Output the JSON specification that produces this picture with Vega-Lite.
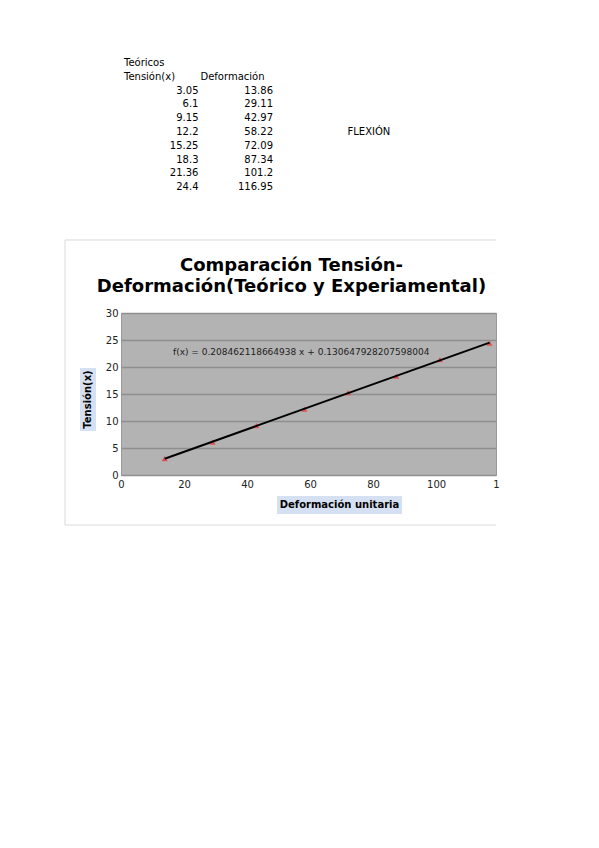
{
  "$schema": "https://vega.github.io/schema/vega-lite/v6.json",
  "description": "Comparación Tensión-Deformación (teórico) con tabla de datos.",
  "padding": {"left": 64, "top": 56, "right": 0, "bottom": 0},
  "background": "white",
  "config": {"font": "DejaVu Sans", "text": {"fontSize": 10, "color": "#000"}},
  "datasets": {
    "teoricos": [
      {"tension": 3.05, "deformacion": 13.86},
      {"tension": 6.1, "deformacion": 29.11},
      {"tension": 9.15, "deformacion": 42.97},
      {"tension": 12.2, "deformacion": 58.22},
      {"tension": 15.25, "deformacion": 72.09},
      {"tension": 18.3, "deformacion": 87.34},
      {"tension": 21.36, "deformacion": 101.2},
      {"tension": 24.4, "deformacion": 116.95}
    ]
  },
  "spacing": 44,
  "vconcat": [
    {
      "width": 304,
      "height": 138,
      "view": {"stroke": null},
      "layer": [
        {
          "data": {"values": [{}]},
          "mark": {"type": "text", "text": "Teóricos", "align": "left", "baseline": "middle"},
          "encoding": {
            "x": {"datum": "A", "type": "nominal", "bandPosition": 0, "axis": null,
                  "scale": {"type": "band", "domain": ["A", "B", "C", "D"], "paddingInner": 0, "paddingOuter": 0.04}},
            "y": {"datum": -1, "type": "ordinal", "bandPosition": 0.5, "axis": null,
                  "scale": {"type": "band", "domain": [-1, 0, 1, 2, 3, 4, 5, 6, 7, 8], "paddingInner": 0, "paddingOuter": 0}}
          }
        },
        {
          "data": {"values": [{}]},
          "mark": {"type": "text", "text": "Tensión(x)", "align": "left", "baseline": "middle"},
          "encoding": {
            "x": {"datum": "A", "type": "nominal", "bandPosition": 0},
            "y": {"datum": 0, "type": "ordinal", "bandPosition": 0.5}
          }
        },
        {
          "data": {"values": [{}]},
          "mark": {"type": "text", "text": "Deformación", "align": "left", "baseline": "middle", "dx": 2},
          "encoding": {
            "x": {"datum": "B", "type": "nominal", "bandPosition": 0},
            "y": {"datum": 0, "type": "ordinal", "bandPosition": 0.5}
          }
        },
        {
          "data": {"values": [{}]},
          "mark": {"type": "text", "text": "FLEXIÓN", "align": "left", "baseline": "middle"},
          "encoding": {
            "x": {"datum": "D", "type": "nominal", "bandPosition": 0},
            "y": {"datum": 4, "type": "ordinal", "bandPosition": 0.5}
          }
        },
        {
          "data": {"name": "teoricos"},
          "transform": [{"window": [{"op": "row_number", "as": "fila"}], "sort": [{"field": "tension"}]}],
          "mark": {"type": "text", "align": "right", "baseline": "middle"},
          "encoding": {
            "x": {"datum": "A", "type": "nominal", "bandPosition": 1},
            "y": {"field": "fila", "type": "ordinal", "bandPosition": 0.5},
            "text": {"field": "tension", "type": "nominal"}
          }
        },
        {
          "data": {"name": "teoricos"},
          "transform": [{"window": [{"op": "row_number", "as": "fila"}], "sort": [{"field": "tension"}]}],
          "mark": {"type": "text", "align": "right", "baseline": "middle"},
          "encoding": {
            "x": {"datum": "B", "type": "nominal", "bandPosition": 1},
            "y": {"field": "fila", "type": "ordinal", "bandPosition": 0.5},
            "text": {"field": "deformacion", "type": "nominal"}
          }
        }
      ]
    },
    {
      "width": 375,
      "height": 162,
      "view": {"fill": "#b3b3b3", "stroke": "#9a9a9a"},
      "resolve": {"axis": {"x": "independent", "y": "independent"}},
      "title": {
        "text": ["Comparación Tensión-", "Deformación(Teórico y Experiamental)"],
        "fontSize": 18,
        "fontWeight": "bold",
        "color": "#000",
        "anchor": "middle",
        "frame": "group",
        "dx": -17,
        "offset": -57,
        "lineHeight": 21
      },
      "layer": [
        {
          "data": {"name": "teoricos"},
          "mark": {"type": "point", "shape": "triangle-up", "filled": true, "color": "#e05252", "size": 36, "opacity": 1},
          "encoding": {
            "x": {
              "field": "deformacion", "type": "quantitative",
              "scale": {"domain": [0, 119], "nice": false, "zero": false},
              "axis": {
                "orient": "bottom",
                "values": [0, 20, 40, 60, 80, 100, 119],
                "labelExpr": "datum.value == 119 ? '1' : datum.label",
                "grid": false, "domain": false, "ticks": false, "labelFlush": false,
                "labelPadding": 4, "labelFontSize": 10, "labelColor": "#222",
                "title": null
              }
            },
            "y": {
              "field": "tension", "type": "quantitative",
              "scale": {"domain": [0, 30], "nice": false},
              "axis": {
                "orient": "left",
                "values": [0, 5, 10, 15, 20, 25, 30],
                "grid": true, "gridColor": "#8e8e8e", "gridWidth": 1.5,
                "domain": false, "ticks": false, "labelFlush": false, "labelOverlap": false,
                "labelPadding": 3, "labelFontSize": 10, "labelColor": "#222",
                "title": null
              }
            }
          }
        },
        {
          "data": {"name": "teoricos"},
          "transform": [{"regression": "tension", "on": "deformacion"}],
          "mark": {"type": "line", "color": "#000", "strokeWidth": 2},
          "encoding": {
            "x": {"field": "deformacion", "type": "quantitative", "axis": null},
            "y": {"field": "tension", "type": "quantitative", "axis": null}
          }
        },
        {
          "data": {"values": [{}]},
          "mark": {"type": "text", "text": "f(x) = 0.208462118664938 x + 0.130647928207598004", "align": "left", "baseline": "middle", "fontSize": 9, "color": "#1e1e1e"},
          "encoding": {
            "x": {"datum": 16.5, "type": "quantitative", "axis": null},
            "y": {"datum": 22.8, "type": "quantitative", "axis": null}
          }
        },
        {
          "data": {"values": [{}]},
          "mark": {"type": "rule", "color": "#d9d9d9", "strokeWidth": 1},
          "encoding": {
            "x": {"datum": -17.77, "type": "quantitative", "axis": null},
            "x2": {"datum": 119},
            "y": {"datum": 43.52, "type": "quantitative", "axis": null}
          }
        },
        {
          "data": {"values": [{}]},
          "mark": {"type": "rule", "color": "#d9d9d9", "strokeWidth": 1},
          "encoding": {
            "x": {"datum": -17.77, "type": "quantitative", "axis": null},
            "x2": {"datum": 119},
            "y": {"datum": -9.26, "type": "quantitative", "axis": null}
          }
        },
        {
          "data": {"values": [{}]},
          "mark": {"type": "rule", "color": "#d9d9d9", "strokeWidth": 1},
          "encoding": {
            "x": {"datum": -17.77, "type": "quantitative", "axis": null},
            "y": {"datum": -9.26, "type": "quantitative", "axis": null},
            "y2": {"datum": 43.52}
          }
        },
        {
          "data": {"values": [{}]},
          "mark": {"type": "rect", "color": "#d5e1f2"},
          "encoding": {
            "x": {"datum": -13.01, "type": "quantitative", "axis": null},
            "x2": {"datum": -7.93},
            "y": {"datum": 19.81, "type": "quantitative", "axis": null},
            "y2": {"datum": 8.15}
          }
        },
        {
          "data": {"values": [{}]},
          "mark": {"type": "rect", "color": "#d5e1f2"},
          "encoding": {
            "x": {"datum": 49.5, "type": "quantitative", "axis": null},
            "x2": {"datum": 89.17},
            "y": {"datum": -3.89, "type": "quantitative", "axis": null},
            "y2": {"datum": -7.22}
          }
        },
        {
          "data": {"values": [{}]},
          "mark": {"type": "text", "text": "Tensión(x)", "angle": 270, "align": "center", "baseline": "middle", "fontSize": 10, "fontWeight": "bold", "color": "#000"},
          "encoding": {
            "x": {"datum": -10.47, "type": "quantitative", "axis": null},
            "y": {"datum": 13.98, "type": "quantitative", "axis": null}
          }
        },
        {
          "data": {"values": [{}]},
          "mark": {"type": "text", "text": "Deformación unitaria", "align": "center", "baseline": "middle", "fontSize": 10, "fontWeight": "bold", "color": "#000"},
          "encoding": {
            "x": {"datum": 69.33, "type": "quantitative", "axis": null},
            "y": {"datum": -5.56, "type": "quantitative", "axis": null}
          }
        }
      ]
    }
  ]
}
